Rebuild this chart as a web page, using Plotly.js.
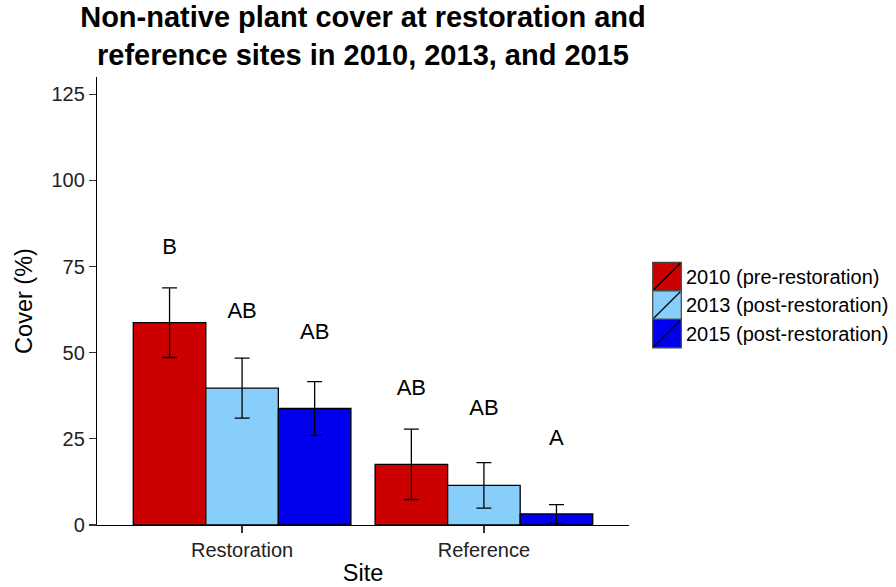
<!DOCTYPE html>
<html>
<head>
<meta charset="utf-8">
<script src="https://cdn.plot.ly/plotly-3.0.1.min.js"></script>
<style>html,body{margin:0;padding:0;background:#fff;}#chart{width:896px;height:587px;}</style>
</head>
<body>
<div id="chart"></div>
<script>
// ---- data ----
var sites = ['Restoration', 'Reference'];
var seriesNames = ['2010 (pre-restoration)', '2013 (post-restoration)', '2015 (post-restoration)'];
var mean2010 = [58.7, 17.6];
var se2010 = [10.1, 10.2];
var mean2013 = [39.7, 11.5];
var se2013 = [8.7, 6.6];
var mean2015 = [33.8, 3.2];
var se2015 = [7.8, 2.7];
var letters2010 = ['B', 'AB'];
var letterY2010 = [80.2, 39.4];
var letters2013 = ['AB', 'AB'];
var letterY2013 = [61.6, 33.4];
var letters2015 = ['AB', 'A'];
var letterY2015 = [55.6, 24.9];
var yTicks = [0, 25, 50, 75, 100, 125];

// ---- styling ----
var colors = ['#CC0000', '#87CEFA', '#0000EE'];
var means = [mean2010, mean2013, mean2015];
var ses = [se2010, se2013, se2015];
var letters = [letters2010, letters2013, letters2015];
var letterYs = [letterY2010, letterY2013, letterY2015];
var font = 'Liberation Sans, Arial, sans-serif';
var idx = sites.map(function (_, i) { return i; });
var barW = 0.3;

var traces = [];
for (var s = 0; s < 3; s++) {
  traces.push({
    type: 'bar', x: idx, y: means[s], name: seriesNames[s],
    marker: { color: colors[s], line: { color: '#000', width: 1.3 } },
    error_y: { type: 'data', array: ses[s], visible: true, color: '#000', thickness: 1.3, width: 7.5 },
    showlegend: false, hoverinfo: 'skip'
  });
}
for (var s2 = 0; s2 < 3; s2++) {
  traces.push({
    type: 'scatter', mode: 'text',
    x: idx.map(function (i) { return i + (s2 - 1) * barW; }),
    y: letterYs[s2], text: letters[s2], textposition: 'middle center',
    textfont: { family: font, size: 22, color: '#000' },
    showlegend: false, hoverinfo: 'skip'
  });
}

// plot area in pixels (for a hand-drawn ggplot-style legend)
var L = 97, R = 629, T = 77, B = 525;
function px(xp) { return (xp - L) / (R - L); }
function py(yp) { return (B - yp) / (B - T); }
var shapes = [], annotations = [];
var keyX0 = 652.7, keyX1 = 681.3, keyTop = 262.3, keyH = 28.5;
for (var k = 0; k < 3; k++) {
  var y0 = keyTop + k * keyH, y1 = y0 + keyH;
  shapes.push({ type: 'rect', xref: 'paper', yref: 'paper', x0: px(keyX0), x1: px(keyX1), y0: py(y1), y1: py(y0),
    fillcolor: colors[k], line: { color: '#444', width: 1.2 } });
  shapes.push({ type: 'line', xref: 'paper', yref: 'paper', x0: px(keyX0 + 1), x1: px(keyX1 - 1), y0: py(y1 - 1), y1: py(y0 + 1),
    line: { color: '#000', width: 1.2 } });
  annotations.push({ xref: 'paper', yref: 'paper', x: px(684), y: py((y0 + y1) / 2), xanchor: 'left', yanchor: 'middle',
    text: seriesNames[k], showarrow: false, font: { family: font, size: 20, color: '#000' } });
}

var layout = {
  width: 896, height: 587,
  margin: { l: L, r: 896 - R, t: T, b: 587 - B, pad: 0 },
  paper_bgcolor: '#fff', plot_bgcolor: '#fff',
  font: { family: font, color: '#000' },
  title: {
    text: '<b>Non-native plant cover at restoration and<br>reference sites in 2010, 2013, and 2015</b>',
    x: 0.5, xref: 'paper', xanchor: 'center', y: 1 - 27 / 587, yref: 'container', yanchor: 'top',
    font: { family: font, size: 29, color: '#000' }
  },
  barmode: 'group', bargap: 0.1, bargroupgap: 0,
  showlegend: false,
  xaxis: {
    range: [-0.6, 1.6], tickvals: idx, ticktext: sites, showline: true, linecolor: '#000', linewidth: 1.2,
    ticks: 'outside', ticklen: 7, tickcolor: '#333', tickwidth: 1.2, showgrid: false, zeroline: false,
    tickfont: { family: font, size: 20, color: '#222' },
    title: { text: 'Site', font: { family: font, size: 23.5, color: '#000' }, standoff: 4 }
  },
  yaxis: {
    range: [0, 130], tickvals: yTicks, showline: true, linecolor: '#000', linewidth: 1.2,
    ticks: 'outside', ticklen: 7, tickcolor: '#333', tickwidth: 1.2, showgrid: false, zeroline: false,
    tickfont: { family: font, size: 20, color: '#222' },
    title: { text: 'Cover (%)', font: { family: font, size: 23.5, color: '#000' }, standoff: 12 }
  },
  shapes: shapes, annotations: annotations
};

Plotly.newPlot('chart', traces, layout, { displayModeBar: false, staticPlot: true });
</script>
</body>
</html>
